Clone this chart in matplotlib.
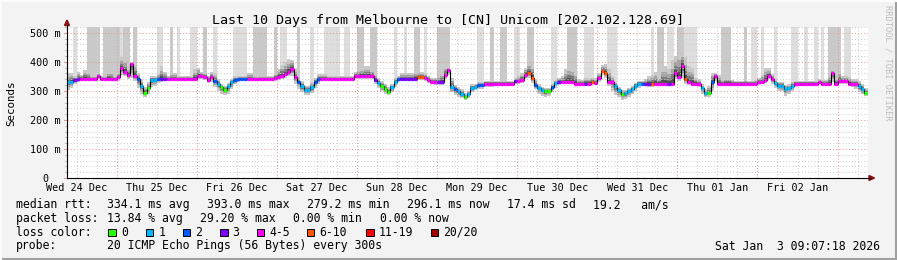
import matplotlib

matplotlib.use("Agg")
import matplotlib.dates as mdates
import matplotlib.pyplot as plt
import numpy as np
import pandas as pd
from matplotlib.patches import Polygon, Rectangle

W, H = 897, 260
plt.rcParams["font.family"] = ["DejaVu Sans Mono"]

title = "Last 10 Days from Melbourne to [CN] Unicom [202.102.128.69]"
t_start = pd.Timestamp("2025-12-24 09:07:18")
t_end = pd.Timestamp("2026-01-03 09:07:18")
steps = pd.date_range("2025-12-24 09:00", periods=240, freq="h")

# hourly median rtt (ms)
median_ms = [
    329, 332, 338, 341, 341, 341, 341, 341, 341, 352, 341, 341, 341, 341, 341, 348, 380, 366, 355, 392, 352, 340, 317, 294,
    311, 338, 338, 341, 341, 341, 341, 341, 341, 341, 341, 341, 341, 341, 341, 352, 352, 347, 338, 347, 334, 324, 313, 303,
    317, 331, 338, 341, 341, 341, 341, 341, 341, 341, 341, 341, 341, 341, 343, 348, 352, 358, 365, 376, 347, 332, 317, 303,
    303, 313, 330, 340, 341, 341, 341, 341, 341, 341, 341, 341, 341, 341, 352, 352, 352, 352, 352, 352, 338, 327, 317, 307,
    297, 313, 332, 341, 341, 341, 341, 341, 341, 348, 348, 345, 338, 332, 330, 330, 330, 356, 372, 313, 306, 298, 290, 278,
    289, 311, 315, 321, 321, 325, 325, 325, 325, 325, 325, 325, 325, 325, 334, 334, 338, 355, 363, 343, 321, 309, 303, 298,
    298, 315, 327, 331, 331, 331, 331, 331, 325, 325, 325, 325, 325, 331, 328, 343, 369, 363, 332, 332, 317, 303, 289, 292,
    300, 306, 318, 325, 325, 325, 325, 325, 325, 325, 325, 325, 325, 325, 361, 349, 386, 340, 331, 325, 325, 325, 309, 292,
    292, 331, 352, 325, 325, 325, 325, 325, 325, 325, 325, 325, 325, 325, 325, 330, 330, 338, 352, 340, 327, 317, 317, 306,
    310, 317, 325, 325, 325, 325, 325, 325, 325, 331, 325, 325, 325, 361, 325, 334, 334, 334, 325, 325, 325, 317, 306, 292,
]

# loss bucket per hour, index into loss_labels
loss_idx = [
    1, 1, 3, 3, 4, 4, 4, 4, 4, 4, 4, 4, 4, 4, 4, 4, 4, 4, 4, 4, 4, 2, 1, 0,
    0, 1, 1, 2, 3, 3, 4, 4, 4, 4, 4, 4, 4, 4, 4, 4, 4, 4, 4, 4, 2, 1, 0, 0,
    1, 1, 2, 2, 2, 2, 4, 4, 4, 4, 4, 4, 4, 4, 4, 4, 4, 4, 4, 4, 4, 2, 1, 1,
    1, 1, 2, 2, 4, 4, 4, 4, 4, 4, 4, 4, 4, 4, 4, 4, 4, 4, 4, 4, 3, 1, 0, 0,
    0, 1, 1, 2, 3, 3, 3, 3, 3, 5, 5, 4, 4, 4, 4, 3, 3, 4, 4, 1, 2, 1, 1, 0,
    1, 1, 1, 2, 2, 4, 4, 4, 4, 4, 4, 4, 4, 4, 3, 4, 4, 4, 5, 5, 2, 1, 1, 0,
    0, 2, 1, 3, 4, 4, 4, 4, 4, 4, 4, 3, 4, 5, 4, 4, 5, 5, 4, 4, 1, 1, 0, 1,
    1, 1, 1, 1, 2, 3, 3, 5, 4, 4, 4, 4, 3, 4, 4, 4, 4, 5, 4, 4, 4, 4, 1, 1,
    0, 2, 4, 4, 4, 4, 4, 4, 4, 4, 4, 4, 4, 4, 4, 4, 4, 4, 4, 4, 1, 1, 1, 1,
    1, 1, 4, 4, 4, 4, 4, 4, 4, 4, 4, 4, 4, 4, 4, 4, 4, 4, 4, 4, 4, 1, 1, 0,
]

# upper / lower edge of the ping smoke (ms)
smoke_hi = [
    360, 360, 350, 365, 355, 373, 365, 350, 350, 360, 350, 350, 370, 365, 350, 365, 415, 410, 380, 400, 397, 360, 340, 315,
    330, 350, 350, 360, 385, 365, 350, 362, 360, 352, 350, 350, 350, 352, 375, 380, 365, 362, 352, 365, 360, 340, 325, 318,
    328, 342, 350, 352, 350, 350, 360, 360, 352, 352, 350, 350, 352, 352, 360, 375, 390, 400, 409, 405, 375, 350, 335, 318,
    318, 330, 345, 357, 357, 357, 350, 350, 350, 350, 350, 350, 352, 352, 365, 372, 378, 384, 384, 372, 358, 345, 335, 325,
    312, 325, 345, 352, 360, 360, 360, 360, 370, 368, 365, 360, 352, 345, 345, 350, 365, 384, 384, 345, 320, 312, 305, 292,
    300, 322, 325, 330, 332, 335, 335, 335, 335, 335, 335, 335, 335, 335, 345, 350, 360, 380, 398, 395, 340, 322, 315, 310,
    310, 325, 338, 345, 350, 375, 390, 385, 365, 340, 338, 345, 345, 345, 345, 360, 390, 392, 375, 350, 330, 315, 302, 303,
    310, 318, 328, 335, 335, 340, 350, 355, 364, 350, 384, 384, 375, 405, 420, 435, 435, 415, 385, 380, 345, 340, 322, 305,
    318, 362, 362, 355, 340, 345, 345, 338, 335, 335, 335, 338, 335, 335, 338, 345, 355, 378, 378, 358, 340, 330, 330, 320,
    322, 330, 335, 335, 335, 335, 335, 335, 335, 342, 338, 338, 355, 370, 345, 372, 350, 350, 348, 340, 340, 335, 322, 310,
]
smoke_lo = [
    303, 310, 325, 330, 333, 333, 333, 333, 333, 340, 333, 333, 333, 333, 333, 335, 355, 350, 340, 345, 335, 310, 290, 280,
    290, 312, 318, 328, 332, 333, 333, 333, 333, 333, 333, 333, 333, 333, 333, 340, 340, 336, 328, 330, 315, 300, 290, 286,
    290, 305, 322, 330, 333, 333, 333, 333, 333, 333, 333, 333, 333, 333, 335, 338, 340, 345, 350, 352, 325, 308, 295, 286,
    285, 292, 310, 325, 333, 333, 333, 333, 333, 333, 333, 333, 333, 333, 342, 342, 342, 342, 342, 342, 325, 310, 298, 290,
    286, 295, 315, 330, 333, 333, 333, 333, 333, 338, 338, 335, 328, 322, 320, 320, 320, 340, 355, 295, 285, 280, 275, 268,
    275, 295, 302, 305, 308, 312, 315, 315, 318, 318, 318, 318, 318, 318, 325, 325, 328, 340, 345, 328, 305, 290, 283, 278,
    282, 295, 310, 320, 322, 322, 322, 322, 318, 318, 318, 318, 318, 320, 320, 332, 355, 345, 318, 300, 285, 278, 269, 272,
    280, 288, 300, 310, 318, 318, 315, 315, 318, 318, 318, 318, 318, 325, 340, 335, 345, 325, 320, 318, 318, 312, 290, 278,
    280, 300, 335, 318, 318, 318, 318, 318, 318, 318, 318, 318, 318, 318, 318, 320, 322, 328, 340, 325, 310, 300, 298, 283,
    290, 300, 315, 318, 318, 318, 318, 318, 318, 320, 318, 318, 318, 330, 318, 322, 322, 322, 318, 315, 305, 295, 288, 281,
]

# pings beyond the top of the graph: 0 none, 1 few, 2 more
tall_shade = [
    0, 0, 1, 0, 0, 0, 2, 2, 2, 2, 0, 2, 2, 2, 2, 2, 1, 2, 2, 0, 2, 0, 0, 0,
    0, 0, 0, 1, 1, 0, 0, 2, 0, 1, 0, 0, 0, 1, 1, 0, 0, 2, 0, 0, 1, 0, 0, 0,
    0, 0, 1, 1, 1, 1, 0, 0, 2, 2, 2, 2, 0, 0, 2, 0, 1, 1, 0, 0, 0, 2, 0, 0,
    0, 1, 0, 0, 0, 1, 1, 1, 1, 1, 0, 1, 1, 0, 0, 2, 2, 0, 0, 2, 2, 0, 0, 0,
    0, 0, 1, 0, 0, 1, 0, 0, 2, 2, 0, 1, 0, 0, 0, 2, 2, 2, 2, 0, 0, 0, 0, 0,
    0, 0, 0, 1, 1, 0, 0, 2, 0, 0, 2, 2, 0, 0, 1, 1, 0, 0, 2, 2, 0, 0, 0, 0,
    0, 1, 1, 0, 0, 0, 2, 2, 2, 0, 0, 1, 1, 1, 0, 0, 0, 0, 1, 1, 1, 0, 0, 0,
    0, 0, 0, 0, 0, 0, 0, 1, 0, 2, 2, 0, 1, 1, 0, 2, 2, 1, 1, 1, 1, 0, 0, 0,
    0, 0, 0, 0, 2, 2, 2, 0, 0, 0, 0, 2, 0, 1, 1, 0, 1, 0, 0, 0, 1, 0, 0, 0,
    0, 1, 1, 0, 0, 1, 0, 0, 1, 0, 1, 0, 2, 2, 2, 2, 0, 1, 1, 0, 0, 0, 0, 0,
]

loss_labels = ["0", "1", "2", "3", "4-5", "6-10", "11-19", "20/20"]
loss_colors = ["#26ff00", "#00b8ff", "#0059ff", "#7e00ff", "#ff00ff", "#ff5500", "#ff0000", "#a10000"]
day_labels = ["Wed 24 Dec", "Thu 25 Dec", "Fri 26 Dec", "Sat 27 Dec", "Sun 28 Dec",
              "Mon 29 Dec", "Tue 30 Dec", "Wed 31 Dec", "Thu 01 Jan", "Fri 02 Jan"]
y_ticks = [0, 100, 200, 300, 400, 500]
y_labels = ["0", "100 m", "200 m", "300 m", "400 m", "500 m"]
rtt_stats = ["334.1 ms avg", "393.0 ms max", "279.2 ms min", "296.1 ms now", "17.4 ms sd", "19.2   am/s"]
loss_stats = ["13.84 % avg", "29.20 % max", "0.00 % min", "0.00 % now"]
probe_text = "20 ICMP Echo Pings (56 Bytes) every 300s"
stamp = "Sat Jan  3 09:07:18 2026"

Y_MAX = 520
CW = 6.95  # px per character in legend
GAP = 16.6
FS = 8.3
FS_AXIS = 7.3


def fx(px):
    return px / W


def fy(py):
    return 1 - py / H


fig = plt.figure(figsize=(W / 100, H / 100), dpi=100, facecolor="#f3f3f3")
ax = fig.add_axes([fx(67), fy(178), (868 - 67) / W, (178 - 27) / H], facecolor="white")

x = mdates.date2num(steps)
step_w = 1 / 24
med = np.array(median_ms, dtype=float)
hi = np.array(smoke_hi, dtype=float)
lo = np.array(smoke_lo, dtype=float)
shade = np.array(tall_shade)

# tall smoke reaching beyond the graph top
for level, color in [(1, "#dedede"), (2, "#c9c9c9")]:
    m = shade == level
    ax.bar(x[m], Y_MAX - med[m], width=step_w, bottom=med[m], align="edge", color=color, linewidth=0, zorder=1)

# dense smoke around the median, darker towards the middle
for frac, color in [(1.0, "#c8c8c8"), (0.65, "#a4a4a4"), (0.4, "#7a7a7a"), (0.2, "#505050")]:
    bottom = med - (med - lo) * frac
    top = med + (hi - med) * frac
    ax.bar(x, top - bottom, width=step_w, bottom=bottom, align="edge", color=color, linewidth=0, zorder=2)

# grid (rrdtool draws it over the data)
dots = (0, (1, 2))
for v in range(20, Y_MAX + 1, 20):
    major = v % 100 == 0
    ax.axhline(v, color="#e29a9a" if major else "#cfcfcf", lw=0.75, ls=dots, zorder=3)
for t in pd.date_range("2025-12-24 12:00", "2026-01-03 06:00", freq="6h"):
    major = t.hour == 0
    ax.axvline(mdates.date2num(t), color="#e29a9a" if major else "#cfcfcf", lw=0.75, ls=dots, zorder=3)

# median line, black steps with loss-coloured segments
ax.step(np.append(x, x[-1] + step_w), np.append(med, med[-1]), where="post", color="black", lw=0.8, zorder=4)
ax.hlines(med, x, x + step_w, colors=[loss_colors[k] for k in loss_idx], lw=2.3, zorder=5)

ax.set_xlim(mdates.date2num(t_start), mdates.date2num(t_end))
ax.set_ylim(0, Y_MAX)
ax.set_xticks([])
ax.set_yticks([])
for s in ax.spines.values():
    s.set_visible(False)

noons = pd.date_range("2025-12-24 12:00", periods=len(day_labels), freq="D")
for t, lbl in zip(noons, day_labels):
    ax.text(mdates.date2num(t), (178 - 191) / 151, lbl, transform=ax.get_xaxis_transform(),
            ha="center", va="baseline", fontsize=FS_AXIS)
for v, lbl in zip(y_ticks, y_labels):
    ax.text((45 - 67) / 801, v, lbl, transform=ax.get_yaxis_transform(), ha="center", va="center_baseline",
            fontsize=FS_AXIS)

# small tick marks left of the y axis
for v in range(0, Y_MAX + 1, 20):
    major = v % 100 == 0
    ax.plot([-3 / 801 if major else -2 / 801, 0], [v, v], transform=ax.get_yaxis_transform(),
            color="#e29a9a" if major else "#bdbdbd", lw=0.75, clip_on=False, zorder=3)

# axes with arrow heads
fig.add_artist(plt.Line2D([fx(67), fx(870)], [fy(178), fy(178)], color="black", lw=0.8, transform=fig.transFigure))
fig.add_artist(plt.Line2D([fx(67), fx(67)], [fy(178), fy(25)], color="black", lw=0.8, transform=fig.transFigure))
arrow_c = "#8b1010"
fig.add_artist(Polygon([[fx(869), fy(175.5)], [fx(869), fy(180.5)], [fx(874.5), fy(178)]], closed=True,
                       color=arrow_c, transform=fig.transFigure))
fig.add_artist(Polygon([[fx(64.5), fy(25.5)], [fx(69.5), fy(25.5)], [fx(67), fy(20)]], closed=True,
                       color=arrow_c, transform=fig.transFigure))

fig.text(fx(448), fy(24.3), title, ha="center", va="baseline", fontsize=9.6)
fig.text(fx(11), fy(103), "Seconds", rotation=90, ha="center", va="center", fontsize=7.8)
fig.text(fx(887.5), fy(5), "RRDTOOL / TOBI OETIKER", rotation=270, ha="center", va="top", fontsize=6.3,
         color="#bdbdbd")

# legend block
fig.text(fx(16), fy(208), "median rtt:", fontsize=FS, va="baseline")
xp = 107.3
for s in rtt_stats:
    fig.text(fx(xp), fy(208), s, fontsize=FS, va="baseline")
    xp += len(s) * CW + GAP

fig.text(fx(16), fy(221.8), "packet loss:", fontsize=FS, va="baseline")
xp = 107.3
for s in loss_stats:
    fig.text(fx(xp), fy(221.8), s, fontsize=FS, va="baseline")
    xp += len(s) * CW + GAP

fig.text(fx(16), fy(235.7), "loss color:", fontsize=FS, va="baseline")
box_x = [108.3, 145.7, 182.7, 220.0, 256.7, 306.7, 366.0, 430.7]
for bx, lbl, col in zip(box_x, loss_labels, loss_colors):
    fig.add_artist(Rectangle((fx(bx), fy(236)), 7.5 / W, 7.5 / H, facecolor=col, edgecolor="black", lw=0.7,
                             transform=fig.transFigure))
    fig.text(fx(bx + 12.5), fy(235.7), lbl, fontsize=FS, va="baseline")

fig.text(fx(16), fy(249.5), "probe:", fontsize=FS, va="baseline")
fig.text(fx(107.3), fy(249.5), probe_text, fontsize=FS, va="baseline")
fig.text(fx(880), fy(249.5), stamp, fontsize=FS, va="baseline", ha="right")

# 3d frame
fig.add_artist(plt.Line2D([0, 1], [fy(259), fy(259)], color="#a0a0a0", lw=1.5, transform=fig.transFigure))
fig.add_artist(plt.Line2D([fx(896), fx(896)], [0, 1], color="#a0a0a0", lw=1.5, transform=fig.transFigure))
fig.add_artist(plt.Line2D([0, 1], [fy(0.5), fy(0.5)], color="#fcfcfc", lw=1.5, transform=fig.transFigure))
fig.add_artist(plt.Line2D([fx(0.5), fx(0.5)], [0, 1], color="#fcfcfc", lw=1.5, transform=fig.transFigure))

fig.savefig("out.png", dpi=100, facecolor=fig.get_facecolor())
plt.close(fig)
